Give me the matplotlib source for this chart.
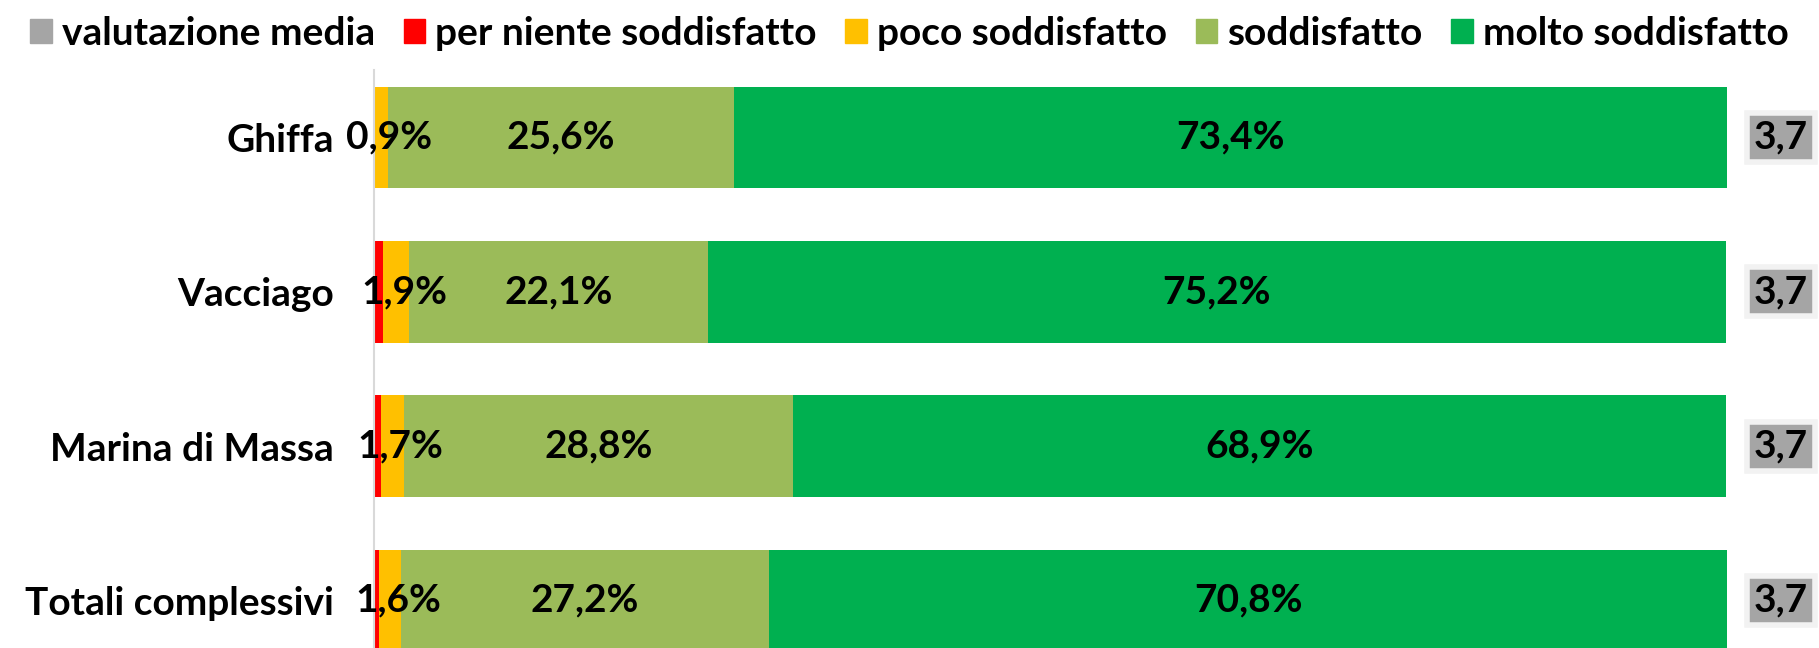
import matplotlib.pyplot as plt
import numpy as np

plt.rcParams['font.family'] = ['Lato', 'DejaVu Sans']
plt.rcParams['font.weight'] = 'bold'

categories = ["Ghiffa", "Vacciago", "Marina di Massa", "Totali complessivi"]
per_niente = [0.1, 0.7, 0.5, 0.4]
poco = [0.9, 1.9, 1.7, 1.6]
soddisfatto = [25.6, 22.1, 28.8, 27.2]
molto = [73.4, 75.2, 68.9, 70.8]
media = [3.7, 3.7, 3.7, 3.7]

# name, values, colour, show labels, label nudge (in % units)
series = [
    ("per niente soddisfatto", per_niente, "#FF0000", False, 0),
    ("poco soddisfatto", poco, "#FFC000", True, 0.6),
    ("soddisfatto", soddisfatto, "#9BBB59", True, 0),
    ("molto soddisfatto", molto, "#00B050", True, 0),
]
grey = "#A5A5A5"
fs = 28

fig = plt.figure(figsize=(18.19, 6.48), dpi=100)
ax = fig.add_axes([374 / 1819, 0, (1727 - 374) / 1819, 1 - 70 / 648])

y = np.arange(len(categories))
left = np.zeros(len(categories))
handles = [plt.Rectangle((0, 0), 1, 1, color=grey)]
labels = ["valutazione media"]
for name, vals, col, show, nudge in series:
    vals = np.array(vals)
    ax.barh(y, vals, left=left, height=0.66, color=col, edgecolor='none')
    if show:
        for yi, l, v in zip(y, left, vals):
            ax.text(l + v / 2 + nudge, yi, f"{v:.1f}%".replace(".", ","), ha='center', va='center',
                    fontsize=fs, fontweight='bold', color='black')
    left += vals
    handles.append(plt.Rectangle((0, 0), 1, 1, color=col))
    labels.append(name)

# valutazione media boxes on the right
trans = ax.get_yaxis_transform()
for yi, m in zip(y, media):
    ax.text(1.040, yi, f"{m:.1f}".replace(".", ","), transform=trans, ha='center', va='center',
            fontsize=fs, fontweight='bold', color='black', clip_on=False,
            bbox=dict(boxstyle='square,pad=0.18', fc=grey, ec='#F2F2F2', lw=4))

ax.set_xlim(0, 100)
ax.set_ylim(3.308, -0.437)
ax.set_yticks(y)
ax.set_yticklabels(categories, fontsize=fs, fontweight='bold')
ax.tick_params(axis='y', length=0, pad=29)
ax.set_xticks([])
for s in ['top', 'right', 'bottom']:
    ax.spines[s].set_visible(False)
ax.spines['left'].set_color('#D9D9D9')
ax.spines['left'].set_linewidth(1.5)

fig.legend(handles, labels, loc='upper center', bbox_to_anchor=(0.5, 1.03), ncol=5,
           frameon=False, fontsize=fs, handlelength=0.55, handleheight=0.55,
           handletextpad=0.27, columnspacing=0.73)

fig.savefig("out.png", dpi=100)
